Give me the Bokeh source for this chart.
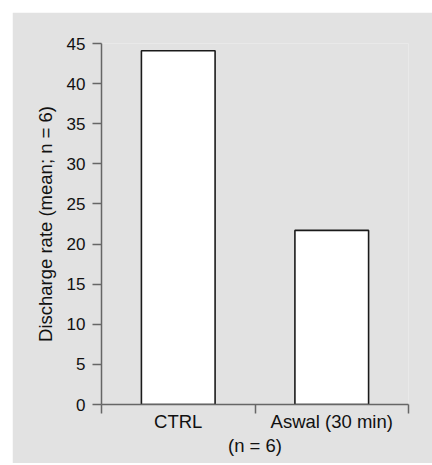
from bokeh.plotting import figure
from bokeh.models import Range1d, FixedTicker, ColumnDataSource
from bokeh.embed import file_html
from bokeh.resources import INLINE

categories = ["CTRL", "Aswal (30 min)"]
rates = [44.1, 21.7]
y_ticks = [0, 5, 10, 15, 20, 25, 30, 35, 40, 45]
x_label = "(n = 6)"
y_label = "Discharge rate (mean; n = 6)"

xs = [i + 0.5 for i in range(len(categories))]
bounds = [i for i in range(len(categories) + 1)]
src = ColumnDataSource(dict(x=xs, top=rates, cat=categories))

BG = "#e2e2e2"
FONT = "Liberation Sans"
AX = "#666666"

p = figure(frame_width=307, frame_height=361, output_backend="svg", toolbar_location=None,
           x_range=Range1d(0, len(categories)), y_range=Range1d(0, 45),
           min_border_left=89, min_border_right=24, min_border_top=31, min_border_bottom=59)
p.styles = {"margin-left": "12px", "margin-top": "12px"}
p.background_fill_color = BG
p.border_fill_color = BG
p.outline_line_color = None
p.grid.visible = False

p.vbar(x="x", top="top", width=0.48, bottom=0, source=src,
       fill_color="white", line_color="#1a1a1a", line_width=1.6)

xa = p.xaxis[0]
xa.ticker = FixedTicker(ticks=xs, minor_ticks=bounds)
xa.major_label_overrides = {x: c for x, c in zip(xs, categories)}
xa.major_tick_out = 0
xa.major_tick_in = 0
xa.minor_tick_out = 9
xa.minor_tick_in = 0
xa.minor_tick_line_color = AX
xa.minor_tick_line_width = 1.5
xa.major_label_standoff = -3
xa.axis_label = x_label
xa.axis_label_standoff = 0

ya = p.yaxis[0]
ya.ticker = FixedTicker(ticks=y_ticks, minor_ticks=[])
ya.major_tick_out = 9
ya.major_tick_in = 0
ya.minor_tick_out = 0
ya.minor_tick_in = 0
ya.major_tick_line_color = AX
ya.major_tick_line_width = 1.5
ya.major_label_standoff = 7
ya.axis_label = y_label
ya.axis_label_standoff = 8

for ax in (xa, ya):
    ax.axis_line_color = AX
    ax.axis_line_width = 1.5
    ax.major_label_text_font = FONT
    ax.major_label_text_color = "#111111"
    ax.axis_label_text_font = FONT
    ax.axis_label_text_font_size = "18.5px"
    ax.axis_label_text_font_style = "normal"
    ax.axis_label_text_color = "#111111"
xa.major_label_text_font_size = "18.5px"
ya.major_label_text_font_size = "17px"

open("out.html", "w").write(file_html(p, INLINE))
